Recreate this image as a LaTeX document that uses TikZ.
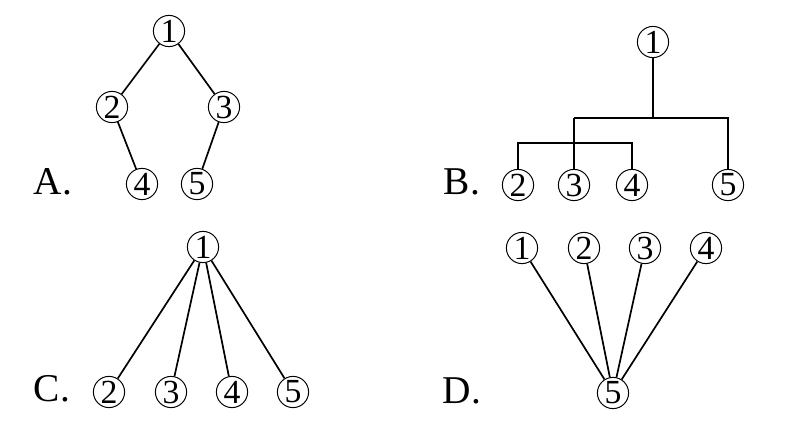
\documentclass[tikz,border=0pt]{standalone}
\usepackage{fontspec}
\setmainfont{Liberation Serif}
\begin{document}
\begin{tikzpicture}[
    x=0.025cm, y=-0.025cm,
    num/.style={circle, draw, line width=0.7pt, inner sep=0pt, minimum size=0.78cm, font=\fontsize{24}{28}\selectfont},
    tag/.style={font=\fontsize{28}{33}\selectfont},
    edge/.style={line width=1.2pt}
]
\useasboundingbox (0,0) rectangle (797,425);

% A
\node[tag] (la) at (53,182) {A.};
\node[num] (a1) at (169,31) {1};
\node[num] (a2) at (112,107) {2};
\node[num] (a3) at (224,107) {3};
\node[num] (a4) at (142,184) {4};
\node[num] (a5) at (197,184) {5};
\draw[edge] (a1) -- (a2);
\draw[edge] (a1) -- (a3);
\draw[edge] (a2) -- (a4);
\draw[edge] (a3) -- (a5);

% B
\node[tag] (lb) at (462,182) {B.};
\node[num] (b1) at (653,42) {1};
\node[num] (b2) at (518,185) {2};
\node[num] (b3) at (574,185) {3};
\node[num] (b4) at (632,185) {4};
\node[num] (b5) at (728,185) {5};
\coordinate (bj) at (653,118);
\coordinate (bk) at (574,118);
\coordinate (bl) at (728,118);
\coordinate (bm) at (574,143);
\draw[edge] (b1) -- (bj);
\draw[edge] (bk) -- (bl) -- (b5);
\draw[edge] (bk) -- (b3);
\draw[edge] (b2) |- (bm) -| (b4);

% C
\node[tag] (lc) at (52,389) {C.};
\node[num] (c1) at (203,247) {1};
\node[num] (c2) at (109,392) {2};
\node[num] (c3) at (171,392) {3};
\node[num] (c4) at (232,392) {4};
\node[num] (c5) at (293,392) {5};
\foreach \i in {2,...,5}
    \draw[edge] (c1) -- (c\i);

% D
\node[tag] (ld) at (462,391) {D.};
\node[num] (d1) at (522,248) {1};
\node[num] (d2) at (584,248) {2};
\node[num] (d3) at (645,248) {3};
\node[num] (d4) at (706,248) {4};
\node[num] (d5) at (613,393) {5};
\foreach \i in {1,...,4}
    \draw[edge] (d\i) -- (d5);
\end{tikzpicture}
\end{document}
